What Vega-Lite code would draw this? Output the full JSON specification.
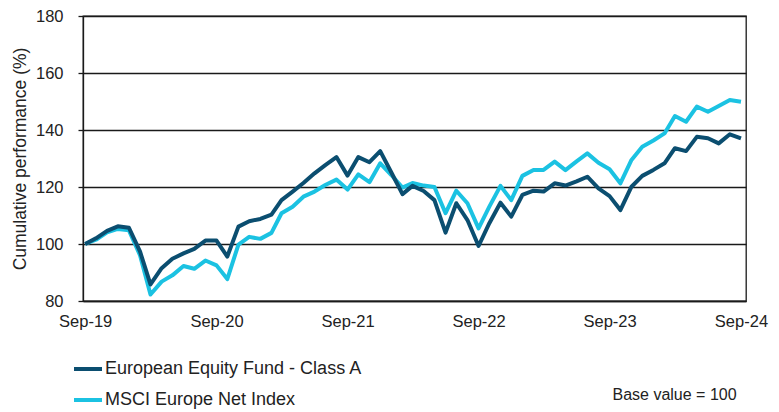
{
  "$schema": "https://vega.github.io/schema/vega-lite/v6.json",
  "autosize": {"type": "none"},
  "width": 663,
  "height": 285,
  "padding": {"left": 83, "top": 16, "right": 33, "bottom": 111},
  "background": "white",
  "config": {
    "font": "Liberation Sans",
    "view": {"stroke": "#1a1a1a", "strokeWidth": 1.3},
    "axis": {"labelFont": "Liberation Sans", "titleFont": "Liberation Sans", "labelColor": "#222", "titleColor": "#222"}
  },
  "title": {
    "text": "Base value = 100",
    "orient": "bottom",
    "anchor": "end",
    "fontSize": 16,
    "fontWeight": "normal",
    "color": "#222",
    "font": "Liberation Sans",
    "offset": -22,
    "dx": -31
  },
  "data": {
    "format": {"parse": {"d": "date:'%Y-%m'"}},
    "values": [
      {"d":"2019-09","s":"MSCI Europe Net Index","v":100},
      {"d":"2019-10","s":"MSCI Europe Net Index","v":101.5},
      {"d":"2019-11","s":"MSCI Europe Net Index","v":104.1},
      {"d":"2019-12","s":"MSCI Europe Net Index","v":105.3},
      {"d":"2020-01","s":"MSCI Europe Net Index","v":104.8},
      {"d":"2020-02","s":"MSCI Europe Net Index","v":96.0},
      {"d":"2020-03","s":"MSCI Europe Net Index","v":82.3},
      {"d":"2020-04","s":"MSCI Europe Net Index","v":86.8},
      {"d":"2020-05","s":"MSCI Europe Net Index","v":89.0},
      {"d":"2020-06","s":"MSCI Europe Net Index","v":92.3},
      {"d":"2020-07","s":"MSCI Europe Net Index","v":91.3},
      {"d":"2020-08","s":"MSCI Europe Net Index","v":94.2},
      {"d":"2020-09","s":"MSCI Europe Net Index","v":92.5},
      {"d":"2020-10","s":"MSCI Europe Net Index","v":87.7},
      {"d":"2020-11","s":"MSCI Europe Net Index","v":99.8},
      {"d":"2020-12","s":"MSCI Europe Net Index","v":102.5},
      {"d":"2021-01","s":"MSCI Europe Net Index","v":101.8},
      {"d":"2021-02","s":"MSCI Europe Net Index","v":103.9},
      {"d":"2021-03","s":"MSCI Europe Net Index","v":110.8},
      {"d":"2021-04","s":"MSCI Europe Net Index","v":113.1},
      {"d":"2021-05","s":"MSCI Europe Net Index","v":116.6},
      {"d":"2021-06","s":"MSCI Europe Net Index","v":118.4},
      {"d":"2021-07","s":"MSCI Europe Net Index","v":120.7},
      {"d":"2021-08","s":"MSCI Europe Net Index","v":122.6},
      {"d":"2021-09","s":"MSCI Europe Net Index","v":119.1},
      {"d":"2021-10","s":"MSCI Europe Net Index","v":124.4},
      {"d":"2021-11","s":"MSCI Europe Net Index","v":121.7},
      {"d":"2021-12","s":"MSCI Europe Net Index","v":128.3},
      {"d":"2022-01","s":"MSCI Europe Net Index","v":124.2},
      {"d":"2022-02","s":"MSCI Europe Net Index","v":119.8},
      {"d":"2022-03","s":"MSCI Europe Net Index","v":121.4},
      {"d":"2022-04","s":"MSCI Europe Net Index","v":120.5},
      {"d":"2022-05","s":"MSCI Europe Net Index","v":120.0},
      {"d":"2022-06","s":"MSCI Europe Net Index","v":110.8},
      {"d":"2022-07","s":"MSCI Europe Net Index","v":118.7},
      {"d":"2022-08","s":"MSCI Europe Net Index","v":114.3},
      {"d":"2022-09","s":"MSCI Europe Net Index","v":105.5},
      {"d":"2022-10","s":"MSCI Europe Net Index","v":113.1},
      {"d":"2022-11","s":"MSCI Europe Net Index","v":120.4},
      {"d":"2022-12","s":"MSCI Europe Net Index","v":115.4},
      {"d":"2023-01","s":"MSCI Europe Net Index","v":123.9},
      {"d":"2023-02","s":"MSCI Europe Net Index","v":126.0},
      {"d":"2023-03","s":"MSCI Europe Net Index","v":126.0},
      {"d":"2023-04","s":"MSCI Europe Net Index","v":128.9},
      {"d":"2023-05","s":"MSCI Europe Net Index","v":125.9},
      {"d":"2023-06","s":"MSCI Europe Net Index","v":129.0},
      {"d":"2023-07","s":"MSCI Europe Net Index","v":131.8},
      {"d":"2023-08","s":"MSCI Europe Net Index","v":128.5},
      {"d":"2023-09","s":"MSCI Europe Net Index","v":126.2},
      {"d":"2023-10","s":"MSCI Europe Net Index","v":121.3},
      {"d":"2023-11","s":"MSCI Europe Net Index","v":129.5},
      {"d":"2023-12","s":"MSCI Europe Net Index","v":134.1},
      {"d":"2024-01","s":"MSCI Europe Net Index","v":136.3},
      {"d":"2024-02","s":"MSCI Europe Net Index","v":138.8},
      {"d":"2024-03","s":"MSCI Europe Net Index","v":144.9},
      {"d":"2024-04","s":"MSCI Europe Net Index","v":142.9},
      {"d":"2024-05","s":"MSCI Europe Net Index","v":148.2},
      {"d":"2024-06","s":"MSCI Europe Net Index","v":146.4},
      {"d":"2024-07","s":"MSCI Europe Net Index","v":148.4},
      {"d":"2024-08","s":"MSCI Europe Net Index","v":150.5},
      {"d":"2024-09","s":"MSCI Europe Net Index","v":149.9},
      {"d":"2019-09","s":"European Equity Fund - Class A","v":100},
      {"d":"2019-10","s":"European Equity Fund - Class A","v":102.0},
      {"d":"2019-11","s":"European Equity Fund - Class A","v":104.6},
      {"d":"2019-12","s":"European Equity Fund - Class A","v":106.2},
      {"d":"2020-01","s":"European Equity Fund - Class A","v":105.7},
      {"d":"2020-02","s":"European Equity Fund - Class A","v":97.3},
      {"d":"2020-03","s":"European Equity Fund - Class A","v":85.8},
      {"d":"2020-04","s":"European Equity Fund - Class A","v":91.5},
      {"d":"2020-05","s":"European Equity Fund - Class A","v":94.8},
      {"d":"2020-06","s":"European Equity Fund - Class A","v":96.7},
      {"d":"2020-07","s":"European Equity Fund - Class A","v":98.3},
      {"d":"2020-08","s":"European Equity Fund - Class A","v":101.2},
      {"d":"2020-09","s":"European Equity Fund - Class A","v":101.2},
      {"d":"2020-10","s":"European Equity Fund - Class A","v":95.6},
      {"d":"2020-11","s":"European Equity Fund - Class A","v":106.1},
      {"d":"2020-12","s":"European Equity Fund - Class A","v":108.0},
      {"d":"2021-01","s":"European Equity Fund - Class A","v":108.8},
      {"d":"2021-02","s":"European Equity Fund - Class A","v":110.3},
      {"d":"2021-03","s":"European Equity Fund - Class A","v":115.4},
      {"d":"2021-04","s":"European Equity Fund - Class A","v":118.4},
      {"d":"2021-05","s":"European Equity Fund - Class A","v":121.4},
      {"d":"2021-06","s":"European Equity Fund - Class A","v":124.8},
      {"d":"2021-07","s":"European Equity Fund - Class A","v":127.7},
      {"d":"2021-08","s":"European Equity Fund - Class A","v":130.5},
      {"d":"2021-09","s":"European Equity Fund - Class A","v":124.0},
      {"d":"2021-10","s":"European Equity Fund - Class A","v":130.5},
      {"d":"2021-11","s":"European Equity Fund - Class A","v":128.7},
      {"d":"2021-12","s":"European Equity Fund - Class A","v":132.6},
      {"d":"2022-01","s":"European Equity Fund - Class A","v":125.1},
      {"d":"2022-02","s":"European Equity Fund - Class A","v":117.5},
      {"d":"2022-03","s":"European Equity Fund - Class A","v":120.4},
      {"d":"2022-04","s":"European Equity Fund - Class A","v":118.6},
      {"d":"2022-05","s":"European Equity Fund - Class A","v":115.4},
      {"d":"2022-06","s":"European Equity Fund - Class A","v":104.0},
      {"d":"2022-07","s":"European Equity Fund - Class A","v":114.3},
      {"d":"2022-08","s":"European Equity Fund - Class A","v":108.4},
      {"d":"2022-09","s":"European Equity Fund - Class A","v":99.3},
      {"d":"2022-10","s":"European Equity Fund - Class A","v":107.3},
      {"d":"2022-11","s":"European Equity Fund - Class A","v":114.5},
      {"d":"2022-12","s":"European Equity Fund - Class A","v":109.6},
      {"d":"2023-01","s":"European Equity Fund - Class A","v":117.2},
      {"d":"2023-02","s":"European Equity Fund - Class A","v":118.7},
      {"d":"2023-03","s":"European Equity Fund - Class A","v":118.4},
      {"d":"2023-04","s":"European Equity Fund - Class A","v":121.3},
      {"d":"2023-05","s":"European Equity Fund - Class A","v":120.5},
      {"d":"2023-06","s":"European Equity Fund - Class A","v":122.0},
      {"d":"2023-07","s":"European Equity Fund - Class A","v":123.6},
      {"d":"2023-08","s":"European Equity Fund - Class A","v":119.5},
      {"d":"2023-09","s":"European Equity Fund - Class A","v":116.8},
      {"d":"2023-10","s":"European Equity Fund - Class A","v":111.9},
      {"d":"2023-11","s":"European Equity Fund - Class A","v":120.1},
      {"d":"2023-12","s":"European Equity Fund - Class A","v":123.9},
      {"d":"2024-01","s":"European Equity Fund - Class A","v":126.0},
      {"d":"2024-02","s":"European Equity Fund - Class A","v":128.3},
      {"d":"2024-03","s":"European Equity Fund - Class A","v":133.6},
      {"d":"2024-04","s":"European Equity Fund - Class A","v":132.6},
      {"d":"2024-05","s":"European Equity Fund - Class A","v":137.6},
      {"d":"2024-06","s":"European Equity Fund - Class A","v":137.1},
      {"d":"2024-07","s":"European Equity Fund - Class A","v":135.3},
      {"d":"2024-08","s":"European Equity Fund - Class A","v":138.5},
      {"d":"2024-09","s":"European Equity Fund - Class A","v":137.1}
    ]
  },
  "encoding": {
    "x": {
      "field": "d",
      "type": "temporal",
      "scale": {"domain": [{"year": 2019, "month": 8, "date": 26}, {"year": 2024, "month": 9, "date": 15}]},
      "axis": {
        "title": null,
        "grid": false,
        "values": [
          {"year": 2019, "month": 9, "date": 1},
          {"year": 2020, "month": 9, "date": 1},
          {"year": 2021, "month": 9, "date": 1},
          {"year": 2022, "month": 9, "date": 1},
          {"year": 2023, "month": 9, "date": 1},
          {"year": 2024, "month": 9, "date": 1}
        ],
        "format": "%b-%y",
        "labelFontSize": 16.5,
        "labelFlush": false,
        "labelOverlap": false,
        "labelAlign": "center",
        "labelPadding": 12,
        "ticks": false,
        "domainColor": "#1a1a1a",
        "domainWidth": 1.3
      }
    },
    "y": {
      "field": "v",
      "type": "quantitative",
      "scale": {"domain": [80, 180], "nice": false, "zero": false},
      "axis": {
        "title": "Cumulative performance (%)",
        "titleFontSize": 17.5,
        "titleFontWeight": "normal",
        "titlePadding": 6,
        "values": [80, 100, 120, 140, 160, 180],
        "labelFontSize": 16.5,
        "labelPadding": 15,
        "tickSize": 5,
        "tickColor": "#1a1a1a",
        "tickWidth": 1.3,
        "domainColor": "#1a1a1a",
        "domainWidth": 1.3,
        "gridColor": "#1a1a1a",
        "gridWidth": 1.3,
        "gridOpacity": 1
      }
    },
    "color": {
      "field": "s",
      "type": "nominal",
      "scale": {
        "domain": ["European Equity Fund - Class A", "MSCI Europe Net Index"],
        "range": ["#0b4e70", "#1bc2e2"]
      },
      "legend": {
        "title": null,
        "orient": "none",
        "legendX": -11,
        "legendY": 337,
        "direction": "vertical",
        "symbolType": "stroke",
        "symbolSize": 784,
        "symbolStrokeWidth": 4,
        "labelFontSize": 18,
        "labelColor": "#222",
        "labelLimit": 0,
        "labelOffset": 1,
        "rowPadding": 6
      }
    }
  },
  "layer": [
    {
      "transform": [{"filter": "datum.s === 'MSCI Europe Net Index'"}],
      "mark": {"type": "line", "strokeWidth": 4, "strokeJoin": "round"}
    },
    {
      "transform": [{"filter": "datum.s === 'European Equity Fund - Class A'"}],
      "mark": {"type": "line", "strokeWidth": 4, "strokeJoin": "round"}
    }
  ]
}
